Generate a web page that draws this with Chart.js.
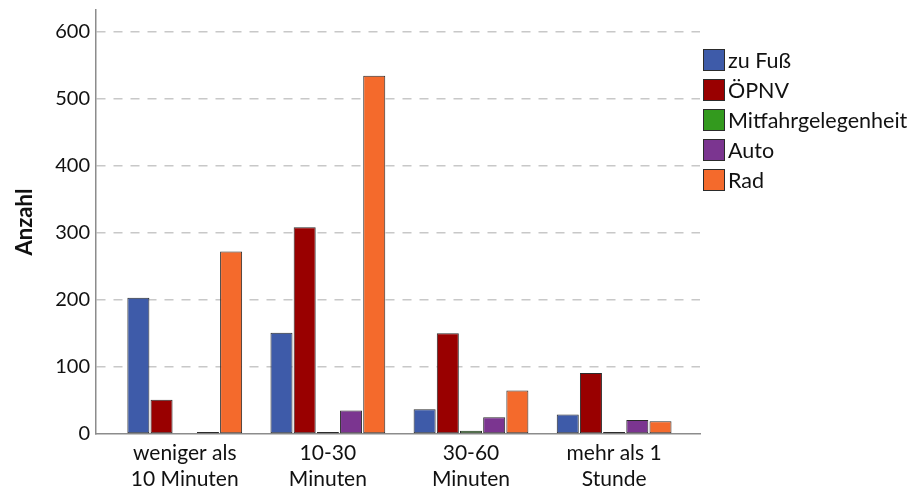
<!DOCTYPE html>
<html>
<head>
<meta charset="utf-8">
<script src="https://cdn.jsdelivr.net/npm/chart.js@4.4.1/dist/chart.umd.min.js"></script>
<style>
  html, body { margin: 0; padding: 0; background: #fff; }
  #wrap { position: relative; width: 913px; height: 489px; }
  #legend { position: absolute; left: 703px; top: 45px; font-family: Lato, "Open Sans", sans-serif; font-size: 21.5px; color: #111; }
  #legend .item { display: flex; align-items: center; height: 30px; }
  #legend .box { width: 22px; height: 22px; border: 1px solid #2b2b2b; margin-right: 3px; box-sizing: border-box; }
</style>
</head>
<body>
<div id="wrap">
  <canvas id="dauerChart" width="913" height="489"></canvas>
  <div id="legend"></div>
</div>
<script>
// Kategorien (Wegzeit) und Anzahl je Verkehrsmittel
const categories = [['weniger als', '10 Minuten'], ['10-30', 'Minuten'], ['30-60', 'Minuten'], ['mehr als 1', 'Stunde']];
const seriesNames = ['zu Fuß', 'ÖPNV', 'Mitfahrgelegenheit', 'Auto', 'Rad'];
const zuFuss = [203, 151, 37, 29];
const oepnv = [51, 308, 150, 91];
const mitfahr = [0, 3, 5, 3];
const auto = [3, 35, 25, 21];
const rad = [272, 534, 65, 19];
const yTicks = [0, 100, 200, 300, 400, 500, 600];

const colors = ['#3e5ba9', '#990000', '#339a1e', '#7b3590', '#f46a2c'];
const font = 'Lato, "Open Sans", sans-serif';

const ctx = document.getElementById('dauerChart').getContext('2d');

function toPoints(values) {
    return values.map((v, i) => ({ x: i, y: v }));
}

const seriesValues = [zuFuss, oepnv, mitfahr, auto, rad];

const chart = new Chart(ctx, {
    type: 'bar',
    data: {
        datasets: seriesValues.map((vals, i) => ({
            label: seriesNames[i],
            data: toPoints(vals),
            backgroundColor: colors[i],
            borderColor: '#2b2b2b',
            borderWidth: 1,
            borderSkipped: false,
            categoryPercentage: 0.81,
            barPercentage: 0.95
        }))
    },
    options: {
        responsive: false,
        animation: false,
        layout: { padding: { top: 10, right: 213, left: 0, bottom: 0 } },
        plugins: {
            tooltip: { enabled: false },
            legend: { display: false }
        },
        scales: {
            x: {
                type: 'linear',
                offset: false,
                min: -0.62,
                max: 3.6,
                afterBuildTicks: scale => { scale.ticks = categories.map((_, i) => ({ value: i })); },
                afterFit: scale => { scale.height = 55; scale.paddingLeft = 0; scale.paddingRight = 0; },
                grid: { display: false, drawTicks: false, offset: false },
                border: { color: '#8c8c8c', width: 1.5 },
                ticks: {
                    padding: 7,
                    color: '#111',
                    maxRotation: 0,
                    font: { family: font, size: 21 },
                    callback: value => categories[value]
                }
            },
            y: {
                min: 0,
                max: 632,
                afterBuildTicks: scale => { scale.ticks = yTicks.map(v => ({ value: v })); },
                afterFit: scale => { scale.width = 96; scale.paddingTop = 0; scale.paddingBottom = 0; },
                grid: {
                    drawTicks: false,
                    color: ctx => ctx.tick && ctx.tick.value === 0 ? 'rgba(0,0,0,0)' : '#c8c8c8',
                    lineWidth: 1.5
                },
                border: { color: '#8c8c8c', width: 1.5, dash: [9, 8] },
                ticks: {
                    padding: 6,
                    color: '#111',
                    font: { family: font, size: 20 }
                },
                title: {
                    display: true,
                    text: 'Anzahl',
                    color: '#111',
                    padding: { top: 12, bottom: 0 },
                    font: { family: font, size: 22, weight: 'bold' }
                }
            }
        }
    }
});

// Legende aus denselben Arrays aufbauen
const legendEl = document.getElementById('legend');
seriesNames.forEach((name, i) => {
    const item = document.createElement('div');
    item.className = 'item';
    const box = document.createElement('span');
    box.className = 'box';
    box.style.background = colors[i];
    const label = document.createElement('span');
    label.textContent = name;
    item.appendChild(box);
    item.appendChild(label);
    legendEl.appendChild(item);
});
</script>
</body>
</html>
